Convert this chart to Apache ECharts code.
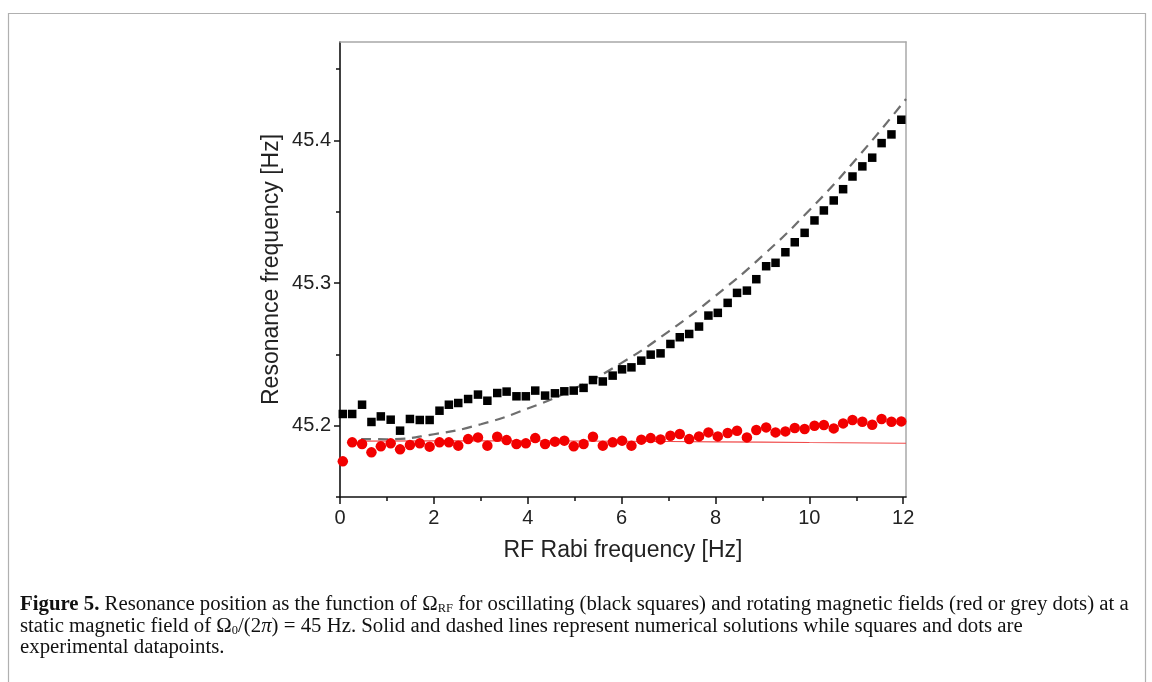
<!DOCTYPE html>
<html>
<head>
<meta charset="utf-8">
<script src="https://cdn.jsdelivr.net/npm/echarts@6/dist/echarts.min.js"></script>
<style>
html,body{margin:0;padding:0;background:#fff;}
#chart{width:1152px;height:682px;}
</style>
</head>
<body>
<div id="chart"></div>
<script>
// ---- data ----
const rabiFreq = [0.06,0.26,0.47,0.67,0.87,1.08,1.28,1.49,1.70,1.91,2.12,2.32,2.52,2.73,2.94,3.14,3.35,3.55,3.76,3.96,4.16,4.37,4.58,4.78,4.98,5.19,5.39,5.60,5.81,6.01,6.21,6.42,6.62,6.83,7.04,7.24,7.44,7.65,7.85,8.05,8.26,8.46,8.67,8.87,9.08,9.28,9.49,9.69,9.90,10.11,10.31,10.52,10.72,10.92,11.13,11.34,11.54,11.75,11.96];
const oscillatingSquares = [45.2082,45.2082,45.2147,45.2026,45.2065,45.2042,45.1965,45.2047,45.2040,45.2040,45.2105,45.2147,45.2159,45.2187,45.2218,45.2175,45.2229,45.2239,45.2206,45.2206,45.2246,45.2211,45.2227,45.2241,45.2246,45.2265,45.2320,45.2310,45.2351,45.2395,45.2409,45.2456,45.2498,45.2507,45.2573,45.2620,45.2643,45.2695,45.2772,45.2791,45.2861,45.2931,45.2947,45.3027,45.3118,45.3142,45.3216,45.3286,45.3352,45.3439,45.3509,45.3579,45.3658,45.3747,45.3818,45.3879,45.3981,45.4042,45.4145];
const rotatingDots = [45.1750,45.1883,45.1871,45.1813,45.1855,45.1876,45.1834,45.1864,45.1876,45.1853,45.1883,45.1883,45.1860,45.1906,45.1918,45.1860,45.1923,45.1899,45.1871,45.1876,45.1913,45.1871,45.1888,45.1895,45.1855,45.1871,45.1923,45.1860,45.1883,45.1895,45.1860,45.1902,45.1913,45.1904,45.1930,45.1942,45.1906,45.1925,45.1953,45.1925,45.1949,45.1965,45.1918,45.1970,45.1988,45.1953,45.1960,45.1984,45.1977,45.2000,45.2005,45.1981,45.2016,45.2040,45.2028,45.2007,45.2047,45.2028,45.2030];
const dashedX = [0.45,1,2,3,4,5,6,7,8,9,10,11,12.06];
const dashedY = [45.1906,45.1905,45.1940,45.2010,45.2120,45.2260,45.2440,45.2660,45.2910,45.3190,45.3510,45.3870,45.4290];
const solidX = [0.45,2,4,6,8,10,12.06];
const solidY = [45.1892,45.1893,45.1893,45.1891,45.1887,45.1882,45.1877];
const xTickLabels = [0,2,4,6,8,10,12];
const xMinorTicks = [1,3,5,7,9,11];
const yTickLabels = [45.2,45.3,45.4];
const yMinorTicks = [45.15,45.25,45.35,45.45];

const pairs = (xs, ys) => xs.map((x, i) => [x, ys[i]]);

const chart = echarts.init(document.getElementById('chart'), null, {renderer: 'canvas'});
const axisFont = 'Liberation Sans, Arial, sans-serif';
const X_MIN = 0, X_MAX = 12.06, Y_MIN = 45.15, Y_MAX = 45.469;

const option = {
  backgroundColor: '#fff',
  animation: false,
  grid: {left: 340, right: 246, top: 42, bottom: 185, containLabel: false},
  xAxis: [
    {
      type: 'value', min: X_MIN, max: X_MAX, position: 'bottom',
      name: 'RF Rabi frequency [Hz]', nameLocation: 'middle', nameGap: 42,
      nameTextStyle: {fontFamily: axisFont, fontSize: 23, color: '#222'},
      axisLine: {show: true, onZero: false, lineStyle: {color: '#111', width: 1.6}},
      axisTick: {show: true, inside: false, length: 7, customValues: xTickLabels, lineStyle: {color: '#111', width: 1.5}},
      axisLabel: {show: true, margin: 11, customValues: xTickLabels, fontFamily: axisFont, fontSize: 20, color: '#222', formatter: v => String(v)},
      splitLine: {show: false}
    },
    {
      type: 'value', min: X_MIN, max: X_MAX, position: 'bottom',
      axisLine: {show: false},
      axisTick: {show: true, length: 4, customValues: xMinorTicks, lineStyle: {color: '#111', width: 1.5}},
      axisLabel: {show: false}, splitLine: {show: false}
    },
    {
      type: 'value', min: X_MIN, max: X_MAX, position: 'top',
      axisLine: {show: true, onZero: false, lineStyle: {color: '#a8a8a8', width: 1.5}},
      axisTick: {show: false}, axisLabel: {show: false}, splitLine: {show: false}
    }
  ],
  yAxis: [
    {
      type: 'value', min: Y_MIN, max: Y_MAX, position: 'left',
      name: 'Resonance frequency [Hz]', nameLocation: 'middle', nameGap: 57, nameRotate: 90,
      nameTextStyle: {fontFamily: axisFont, fontSize: 23, color: '#222'},
      axisLine: {show: true, onZero: false, lineStyle: {color: '#111', width: 1.6}},
      axisTick: {show: true, length: 6, customValues: yTickLabels, lineStyle: {color: '#111', width: 1.5}},
      axisLabel: {show: true, margin: 9, customValues: yTickLabels, fontFamily: axisFont, fontSize: 20, color: '#222', formatter: v => v.toFixed(1)},
      splitLine: {show: false}
    },
    {
      type: 'value', min: Y_MIN, max: Y_MAX, position: 'left',
      axisLine: {show: false},
      axisTick: {show: true, length: 4, customValues: yMinorTicks, lineStyle: {color: '#111', width: 1.5}},
      axisLabel: {show: false}, splitLine: {show: false}
    },
    {
      type: 'value', min: Y_MIN, max: Y_MAX, position: 'right',
      axisLine: {show: true, onZero: false, lineStyle: {color: '#a8a8a8', width: 1.5}},
      axisTick: {show: false}, axisLabel: {show: false}, splitLine: {show: false}
    }
  ],
  series: [
    {
      name: 'rotating (numerical)', type: 'line', data: pairs(solidX, solidY), smooth: true,
      showSymbol: false, symbol: 'none', lineStyle: {color: '#f04a4a', width: 1.2}, z: 2
    },
    {
      name: 'oscillating (numerical)', type: 'line', data: pairs(dashedX, dashedY), smooth: true,
      showSymbol: false, symbol: 'none', lineStyle: {color: '#6e6e6e', width: 2.2, type: [10, 7]}, z: 2
    },
    {
      name: 'rotating', type: 'scatter', data: pairs(rabiFreq, rotatingDots),
      symbol: 'circle', symbolSize: 10.5, itemStyle: {color: '#f20000', opacity: 1}, z: 3
    },
    {
      name: 'oscillating', type: 'scatter', data: pairs(rabiFreq, oscillatingSquares),
      symbol: 'rect', symbolSize: 8.5, itemStyle: {color: '#000', opacity: 1}, z: 4
    }
  ],
  graphic: [
    {
      type: 'rect', left: 6, top: 11, silent: true,
      shape: {width: 1137, height: 720},
      style: {fill: 'none', stroke: '#b0b0b0', lineWidth: 1.2}
    },
    {
      type: 'text', x: 20, y: 594, scaleX: 1.04, silent: true,
      style: {
        text: '{b|Figure 5.} Resonance position as the function of Ω{sub|RF} for oscillating (black squares) and rotating magnetic fields (red or grey dots) at a\n' +
              'static magnetic field of Ω{sub|0}/(2{i|π}) = 45 Hz. Solid and dashed lines represent numerical solutions while squares and dots are\n' +
              'experimental datapoints.',
        fontFamily: 'Liberation Serif, Times New Roman, serif', fontSize: 20, lineHeight: 21.5, fill: '#111',
        rich: {
          b: {fontFamily: 'Liberation Serif, serif', fontWeight: 'bold', fontSize: 20, fill: '#111'},
          sub: {fontFamily: 'Liberation Serif, serif', fontSize: 12, fill: '#111', padding: [9, 0, 0, 0]},
          i: {fontFamily: 'Liberation Serif, serif', fontStyle: 'italic', fontSize: 20, fill: '#111'}
        }
      }
    }
  ]
};
chart.setOption(option);
</script>
</body>
</html>
